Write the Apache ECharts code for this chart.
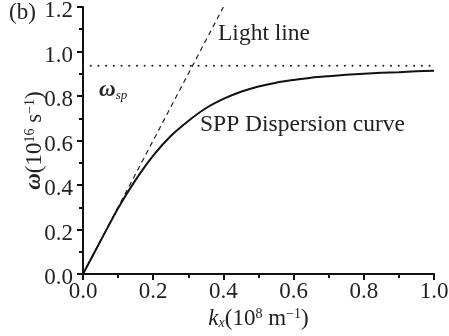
<!DOCTYPE html>
<html>
<head>
<meta charset="utf-8">
<script src="https://cdn.jsdelivr.net/npm/echarts@6/dist/echarts.min.js"></script>
<style>html,body{margin:0;padding:0;background:#fff}#c{width:449px;height:336px}</style>
</head>
<body>
<div id="c"></div>
<script>
// Data
const xTicks = [0.0, 0.2, 0.4, 0.6, 0.8, 1.0];
const yTicks = [0.0, 0.2, 0.4, 0.6, 0.8, 1.0, 1.2];
const sppK = [0, 0.05, 0.1, 0.15, 0.2, 0.25, 0.3, 0.35, 0.4, 0.45, 0.5, 0.55, 0.6, 0.65, 0.7, 0.75, 0.8, 0.85, 0.9, 0.95, 1.0];
const sppW = [0, 0.149, 0.296, 0.423, 0.532, 0.62, 0.688, 0.745, 0.787, 0.819, 0.843, 0.86, 0.872, 0.882, 0.889, 0.895, 0.9, 0.904, 0.907, 0.911, 0.914];
const lightK = [0, 0.4];
const lightW = [0, 1.2];
const spK = [0, 1.0];
const spW = [0.936, 0.936];

const FONT = '"Liberation Serif", "DejaVu Serif", serif';
const FS = 23;
const zip = (a, b) => a.map((v, i) => [v, b[i]]);

const chart = echarts.init(document.getElementById('c'));
chart.setOption({
  animation: false,
  backgroundColor: '#fff',
  grid: { left: 83, right: 15, top: 7, bottom: 62, outerBoundsMode: 'none', containLabel: false },
  xAxis: {
    type: 'value', min: 0, max: 1.0, interval: 0.2,
    axisLine: { show: true, onZero: false, lineStyle: { color: '#111', width: 2 } },
    axisTick: { show: true, inside: false, length: 6, lineStyle: { color: '#111', width: 2 } },
    minorTick: { show: true, splitNumber: 2, length: 4, lineStyle: { color: '#111', width: 2 } },
    splitLine: { show: false },
    axisLabel: { color: '#222', fontFamily: FONT, fontSize: FS, margin: 6,
      formatter: v => v.toFixed(1) },
    name: '{i|k}{sub|x}(10{sup|8} m{sup|−1})',
    nameLocation: 'middle', nameGap: 33, nameMoveOverlap: false,
    nameTextStyle: {
      color: '#222', fontFamily: FONT, fontSize: FS,
      rich: {
        i: { fontFamily: FONT, fontSize: FS, fontStyle: 'italic', color: '#222' },
        sub: { fontFamily: FONT, fontSize: 14, fontStyle: 'italic', color: '#222', verticalAlign: 'bottom', padding: [8, 0, 0, 0] },
        sup: { fontFamily: FONT, fontSize: 14, color: '#222', verticalAlign: 'top', padding: [0, 0, 8, 0] }
      }
    }
  },
  yAxis: {
    type: 'value', min: 0, max: 1.2, interval: 0.2,
    axisLine: { show: true, lineStyle: { color: '#111', width: 2 } },
    axisTick: { show: true, inside: false, length: 6, lineStyle: { color: '#111', width: 2 } },
    minorTick: { show: true, splitNumber: 2, length: 4, lineStyle: { color: '#111', width: 2 } },
    splitLine: { show: false },
    axisLabel: { color: '#222', fontFamily: FONT, fontSize: FS, margin: 10,
      formatter: v => '{a|' + v.toFixed(1) + '}',
      rich: { a: { fontFamily: FONT, fontSize: FS, color: '#222', padding: [8, 0, 0, 0] } } },
    name: '{i|ω}(10{sup|16} s{sup|−1})',
    nameLocation: 'middle', nameGap: 37, nameRotate: 90, nameMoveOverlap: false,
    nameTextStyle: {
      color: '#222', fontFamily: FONT, fontSize: FS,
      rich: {
        i: { fontFamily: FONT, fontSize: FS, fontStyle: 'italic', fontWeight: 'bold', color: '#222' },
        sup: { fontFamily: FONT, fontSize: 14, color: '#222', verticalAlign: 'top', padding: [0, 0, 8, 0] }
      }
    }
  },
  series: [
    {
      type: 'line', data: zip(sppK, sppW), smooth: 0.3, symbol: 'none',
      lineStyle: { color: '#111', width: 2 }, z: 3
    },
    {
      type: 'line', data: zip(lightK, lightW), symbol: 'none',
      lineStyle: { color: '#222', width: 1.2, type: [5, 4] }, z: 2
    },
    {
      type: 'line', data: zip(spK, spW), symbol: 'none',
      lineStyle: { color: '#222', width: 2, type: [0.1, 7.6], cap: 'round' }, z: 2
    }
  ],
  graphic: [
    { type: 'text', left: 9, top: 1, style: { text: '(b)', font: FS + 'px ' + FONT, fill: '#222' } },
    { type: 'text', left: 218, top: 22, style: { text: 'Light line', font: '23.5px ' + FONT, fill: '#222' } },
    { type: 'text', left: 200, top: 113, style: { text: 'SPP Dispersion curve', font: '23.5px ' + FONT, fill: '#222' } },
    { type: 'text', left: 99, top: 79, style: {
        text: '{w|ω}{s|sp}',
        rich: {
          w: { fontFamily: FONT, fontSize: FS, fontStyle: 'italic', fontWeight: 'bold', fill: '#222' },
          s: { fontFamily: FONT, fontSize: 13, fontStyle: 'italic', fill: '#222', verticalAlign: 'bottom', padding: [6, 0, 0, 0] }
        }
      } }
  ]
});
</script>
</body>
</html>
